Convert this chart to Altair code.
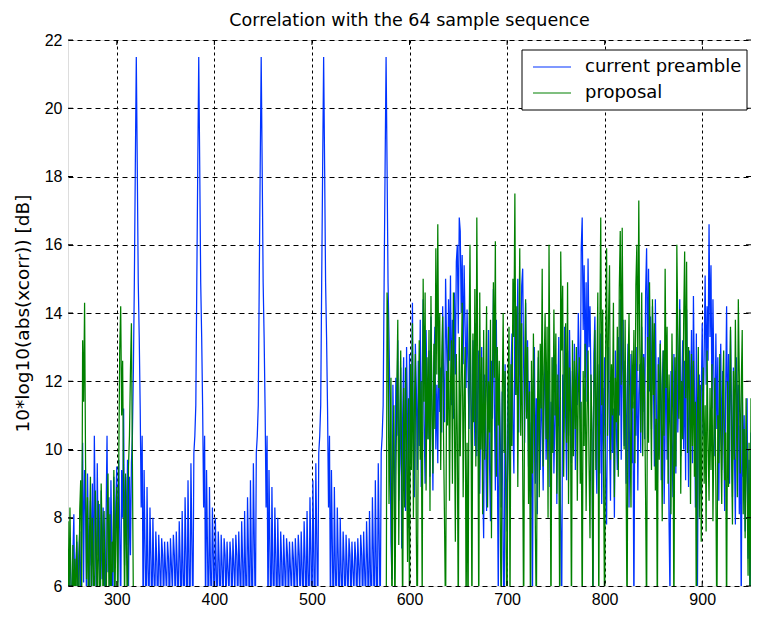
import altair as alt
import pandas as pd

FONT = "Liberation Sans"
TFONT = "DejaVu Sans"
BLUE = "#0033ff"
GREEN = "#008000"

# sample index range shown on the x axis
x_first = 250
x_last = 950

# ---- "current preamble" (blue) ----
blue_lead = [  # 250-319
    6.7, 5.0, 7.4, 6.2, 4.5, 6.9, 8.1, 5.3, 6.7, 7.3,
    5.1, 6.9, 7.6, 4.8, 7.8, 10.2, 6.1, 9.4, 8.2, 5.4,
    9.3, 7.2, 4.9, 8.5, 6.6, 9.0, 5.2, 10.4, 7.8, 5.5,
    9.6, 6.9, 8.4, 4.7, 8.8, 6.2, 8.3, 7.4, 5.0, 8.0,
    10.4, 6.4, 8.6, 5.3, 9.1, 7.0, 5.5, 9.2, 6.8, 8.4,
    9.5, 6.1, 9.7, 7.6, 5.2, 9.4, 8.0, 11.2, 6.6, 9.2,
    7.2, 9.7, 5.8, 9.2, 6.9, 9.6, 10.4, 12.3, 14.9, 18.3,
]
blue_period_1 = [  # 320-383
    21.5, 18.3, 14.9, 13.3, 11.2, 8.3, 10.4, 5.0, 9.4, 7.0,
    4.5, 8.9, 6.5, 5.2, 8.3, 6.8, 4.8, 8.0, 6.4, 5.5,
    7.6, 6.7, 4.9, 7.5, 6.6, 5.6, 7.4, 6.9, 5.3, 7.3,
    6.5, 5.7, 7.3, 6.8, 5.1, 7.4, 6.6, 5.8, 7.5, 6.9,
    5.2, 7.6, 6.5, 5.4, 7.9, 6.7, 4.9, 8.2, 6.4, 5.0,
    8.6, 6.9, 4.6, 9.1, 6.6, 4.8, 9.6, 7.2, 5.0, 9.9,
    10.4, 11.3, 14.9, 18.3,
]
blue_period_2 = [  # 384-447
    21.5, 18.3, 14.9, 13.3, 11.2, 8.3, 10.4, 5.0, 9.4, 7.0,
    4.5, 8.9, 6.5, 5.2, 8.3, 6.8, 4.8, 8.0, 6.4, 5.5,
    7.6, 6.7, 4.9, 7.5, 6.6, 5.6, 7.4, 6.9, 5.3, 7.3,
    6.5, 5.7, 7.3, 6.8, 5.1, 7.4, 6.6, 5.8, 7.5, 6.9,
    5.2, 7.6, 6.5, 5.4, 7.9, 6.7, 4.9, 8.2, 6.4, 5.0,
    8.6, 6.9, 4.6, 9.1, 6.6, 4.8, 9.6, 7.2, 5.0, 9.9,
    10.4, 11.3, 14.9, 18.3,
]
blue_period_3 = [  # 448-511
    21.5, 18.3, 14.9, 13.3, 11.2, 8.3, 10.4, 5.0, 9.4, 7.0,
    4.5, 8.9, 6.5, 5.2, 8.3, 6.8, 4.8, 8.0, 6.4, 5.5,
    7.6, 6.7, 4.9, 7.5, 6.6, 5.6, 7.4, 6.9, 5.3, 7.3,
    6.5, 5.7, 7.3, 6.8, 5.1, 7.4, 6.6, 5.8, 7.5, 6.9,
    5.2, 7.6, 6.5, 5.4, 7.9, 6.7, 4.9, 8.2, 6.4, 5.0,
    8.6, 6.9, 4.6, 9.1, 6.6, 4.8, 9.6, 7.2, 5.0, 9.9,
    10.4, 11.3, 14.9, 18.3,
]
blue_period_4 = [  # 512-575
    21.5, 18.3, 14.9, 13.3, 11.2, 8.3, 10.4, 5.0, 9.4, 7.0,
    4.5, 8.9, 6.5, 5.2, 8.3, 6.8, 4.8, 8.0, 6.4, 5.5,
    7.6, 6.7, 4.9, 7.5, 6.6, 5.6, 7.4, 6.9, 5.3, 7.3,
    6.5, 5.7, 7.3, 6.8, 5.1, 7.4, 6.6, 5.8, 7.5, 6.9,
    5.2, 7.6, 6.5, 5.4, 7.9, 6.7, 4.9, 8.2, 6.4, 5.0,
    8.6, 6.9, 4.6, 9.1, 6.6, 4.8, 9.6, 7.2, 5.0, 9.9,
    10.4, 11.3, 14.9, 18.3,
]
blue_peak_5 = [21.5, 18.3, 14.9, 13.3, 11.2]  # 576-580
blue_tail = [  # 581-955
    7.3, 6.2, 11.9, 9.8, 8.0, 12.1, 10.4, 13.2, 8.5,
    9.6, 12.4, 7.1, 11.0, 12.7, 9.3, 8.2, 13.0, 10.6, 7.7,
    12.8, 9.9, 11.3, 14.3, 10.2, 8.6, 13.1, 11.8, 9.4, 12.6,
    10.1, 13.8, 8.9, 12.2, 14.4, 10.7, 9.0, 13.5, 11.6, 10.3,
    12.9, 9.2, 13.9, 11.4, 8.8, 12.5, 13.6, 10.0, 11.9, 9.6,
    13.3, 11.1, 12.4, 10.5, 14.2, 12.0, 10.8, 15.0, 13.1, 11.7,
    14.4, 12.6, 15.1, 11.3, 13.8, 10.9, 14.6, 12.2, 15.5, 16.0,
    13.4, 16.8, 16.4, 14.0, 15.7, 12.5, 15.4, 13.6, 11.8, 14.1,
    12.3, 10.6, 14.0, 11.5, 9.4, 13.2, 12.0, 10.1, 13.7, 9.8,
    11.9, 12.9, 8.7, 10.8, 13.0, 9.1, 7.4, 12.2, 10.3, 8.2,
    11.4, 13.5, 9.6, 7.9, 12.6, 10.9, 14.7, 11.2, 8.8, 13.8,
    9.9, 5.5, 12.1, 10.4, 8.3, 11.7, 6.9, 4.8, 12.5, 9.2,
    7.6, 11.9, 10.0, 8.4, 12.3, 13.4, 10.7, 9.3, 14.1, 11.6,
    12.8, 15.0, 10.5, 13.7, 11.9, 14.8, 15.3, 12.4, 10.2, 14.3,
    11.1, 13.2, 9.5, 12.0, 8.6, 10.8, 5.2, 11.9, 13.0, 9.0,
    11.5, 8.1, 12.7, 10.2, 9.4, 12.1, 10.6, 8.8, 11.8, 12.6,
    9.7, 11.0, 10.3, 12.4, 8.9, 11.4, 10.0, 12.7, 9.3, 10.9,
    12.5, 8.4, 11.6, 13.3, 9.8, 7.7, 5.3, 12.2, 10.5, 13.6,
    11.0, 9.1, 12.9, 10.4, 13.5, 11.8, 9.6, 12.3, 10.8, 13.1,
    9.4, 12.0, 11.3, 14.0, 12.6, 10.9, 15.9, 16.8, 13.5, 15.4,
    12.1, 14.9, 11.4, 15.6, 13.0, 14.2, 11.9, 10.5, 5.4, 12.8,
    13.9, 10.2, 8.7, 12.5, 11.1, 9.3, 13.4, 8.4, 11.8, 10.0,
    12.7, 9.2, 7.8, 11.6, 13.0, 10.3, 8.5, 12.4, 9.9, 11.2,
    8.0, 12.9, 10.6, 9.4, 13.3, 11.0, 14.4, 9.7, 12.2, 13.8,
    10.1, 12.6, 9.0, 11.7, 13.1, 8.3, 10.9, 12.8, 9.6, 11.4,
    5.1, 12.0, 10.4, 13.0, 8.8, 11.6, 12.5, 9.9, 13.6, 11.1,
    12.8, 10.3, 14.6, 15.9, 12.4, 15.3, 11.7, 13.9, 10.6, 14.2,
    12.0, 9.5, 14.4, 11.3, 8.7, 12.7, 10.8, 13.2, 9.1, 11.9,
    12.9, 8.4, 10.6, 13.0, 9.7, 11.5, 7.9, 5.6, 12.3, 10.2,
    8.6, 12.8, 11.1, 9.3, 13.4, 10.5, 12.1, 14.4, 9.8, 11.7,
    13.2, 10.0, 12.6, 9.1, 14.1, 11.4, 8.9, 12.9, 10.7, 13.5,
    9.6, 14.5, 11.8, 8.3, 13.4, 5.2, 10.9, 12.2, 8.7, 11.5,
    13.7, 10.4, 12.8, 15.1, 11.9, 14.2, 12.6, 16.6, 13.3, 15.4,
    11.2, 14.4, 12.0, 9.8, 13.4, 10.6, 12.7, 8.5, 11.8, 13.1,
    9.4, 12.3, 10.9, 8.2, 11.6, 14.2, 10.1, 12.8, 9.0, 13.5,
    11.3, 8.6, 12.4, 9.9, 7.8, 12.7, 10.5, 11.9, 8.1, 10.7,
    5.3, 12.1, 9.2, 11.0, 7.6, 10.3, 11.5, 6.8, 9.7, 4.9,
    10.5, 8.0, 5.1, 9.4, 11.2, 7.0,
]

# ---- "proposal" (green); between 320 and 575 it stays below the axis ----
green_head_first = 250
green_head = [  # 250-319
    7.9, 5.2, 8.3, 6.1, 4.6, 7.2, 5.5, 6.8, 4.9, 7.5,
    6.0, 4.8, 8.2, 9.1, 5.3, 13.2, 11.4, 14.3, 9.6, 6.2,
    8.6, 4.7, 7.4, 9.2, 5.1, 8.0, 6.5, 4.5, 8.8, 7.0,
    5.3, 8.5, 6.1, 4.9, 9.0, 7.5, 5.4, 8.2, 6.0, 4.7,
    7.8, 9.3, 5.6, 8.1, 4.8, 7.3, 6.4, 9.4, 5.2, 7.7,
    8.9, 5.0, 9.5, 12.9, 14.2, 11.0, 12.6, 8.7, 5.4, 9.3,
    7.1, 4.6, 9.5, 10.4, 12.3, 13.7, 9.6, 5.5, 3.0, 3.0,
]
green_tail_first = 576
green_tail = [  # 576-955
    3.0, 14.6, 13.8, 8.4,
    10.2, 12.1, 4.5, 9.6, 11.3, 4.8, 8.9, 11.7, 13.8, 7.2,
    10.6, 12.9, 9.1, 5.0, 11.8, 8.3, 12.4, 10.0, 6.7, 11.5,
    4.9, 12.5, 9.4, 13.7, 8.0, 11.2, 12.8, 7.5, 4.6, 10.9,
    13.2, 9.7, 12.0, 5.3, 15.0, 11.4, 14.6, 8.8, 12.7, 10.3,
    13.5, 8.2, 14.5, 11.0, 9.3, 13.1, 10.6, 15.9, 12.2, 16.6,
    11.8, 14.0, 9.4, 12.6, 13.9, 10.1, 7.6, 4.8, 12.3, 10.7,
    13.6, 8.5, 11.9, 13.2, 9.0, 14.6, 11.1, 7.3, 12.8, 10.4,
    4.7, 13.3, 9.8, 12.1, 14.3, 8.6, 11.5, 13.0, 5.0, 10.2,
    4.6, 12.9, 16.0, 11.3, 4.9, 13.4, 10.8, 14.7, 9.5, 16.8,
    12.4, 4.8, 14.6, 10.0, 12.7, 8.1, 13.5, 9.7, 11.6, 14.2,
    8.3, 12.0, 10.5, 13.8, 7.4, 11.9, 14.9, 12.1, 16.1, 9.2,
    13.0, 10.7, 12.6, 8.0, 4.9, 11.4, 14.0, 9.9, 12.3, 7.1,
    4.8, 11.8, 13.6, 5.2, 12.5, 10.1, 15.0, 13.3, 17.5, 11.6,
    14.2, 8.9, 12.8, 15.9, 10.4, 13.7, 9.6, 4.7, 12.0, 14.4,
    10.9, 13.0, 8.4, 11.7, 4.8, 12.6, 9.3, 13.4, 11.0, 7.7,
    4.9, 10.8, 12.9, 8.6, 13.1, 11.2, 15.3, 9.5, 12.4, 14.0,
    10.3, 13.6, 8.0, 16.0, 11.5, 4.8, 12.7, 9.9, 14.1, 11.0,
    13.4, 8.7, 12.2, 10.5, 4.7, 15.8, 12.9, 14.8, 9.2, 11.9,
    13.7, 10.2, 14.9, 8.4, 12.4, 11.1, 4.9, 13.2, 9.8, 12.6,
    10.6, 13.0, 8.5, 11.8, 12.7, 9.0, 11.4, 4.6, 12.3, 10.1,
    13.1, 8.2, 11.0, 12.9, 9.6, 7.4, 12.2, 10.5, 4.8, 11.7,
    13.5, 9.4, 12.0, 14.6, 4.9, 13.2, 16.8, 11.3, 14.1, 8.9,
    4.7, 12.8, 15.9, 10.4, 13.9, 15.4, 9.7, 12.5, 11.0, 14.3,
    8.6, 12.1, 10.8, 13.6, 9.2, 14.7, 16.4, 11.9, 16.5, 12.6,
    10.0, 13.8, 9.1, 4.8, 12.4, 14.0, 10.7, 8.3, 12.9, 11.2,
    13.5, 9.6, 14.8, 16.0, 12.3, 17.3, 13.0, 10.5, 14.6, 9.8,
    12.7, 11.4, 8.5, 4.9, 13.3, 10.2, 14.9, 12.0, 9.4, 14.4,
    11.6, 13.7, 8.8, 10.9, 4.7, 12.5, 9.7, 13.1, 11.3, 7.9,
    12.9, 10.4, 15.3, 11.8, 13.6, 9.0, 12.2, 10.6, 8.1, 13.4,
    11.0, 4.8, 12.7, 9.5, 16.0, 13.3, 10.9, 14.1, 8.7, 12.0,
    10.3, 13.8, 15.8, 11.5, 15.5, 9.9, 13.0, 11.7, 8.4, 12.8,
    10.1, 12.6, 9.2, 11.4, 4.6, 10.8, 13.0, 8.0, 11.9, 7.3,
    10.7, 12.4, 9.0, 11.3, 7.6, 12.9, 10.2, 8.5, 11.8, 9.4,
    12.5, 7.9, 10.6, 12.1, 8.8, 4.7, 11.0, 9.6, 12.8, 10.3,
    8.4, 11.7, 12.9, 9.1, 10.5, 4.8, 12.0, 8.9, 11.4, 13.6,
    10.0, 7.8, 12.3, 9.7, 13.8, 11.1, 8.6, 14.4, 12.2, 9.3,
    11.8, 13.5, 8.1, 10.6, 7.4, 11.5, 9.0, 6.3, 10.2, 4.9,
    11.5, 8.2, 9.8, 6.1, 10.4, 7.6,
]

# axis ticks
x_ticks = [300, 400, 500, 600, 700, 800, 900]
y_ticks = [6, 8, 10, 12, 14, 16, 18, 20, 22]
series_names = ["current preamble", "proposal"]
series_colors = [BLUE, GREEN]

# ---- tables ----
blue = (blue_lead + blue_period_1 + blue_period_2 + blue_period_3
        + blue_period_4 + blue_peak_5 + blue_tail)
df_blue = pd.DataFrame({
    "n": list(range(x_first, x_first + len(blue))),
    "v": blue,
    "series": series_names[0],
    "seg": 0,
})
df_green = pd.concat([
    pd.DataFrame({"n": list(range(green_head_first, green_head_first + len(green_head))),
                  "v": green_head, "seg": 1}),
    pd.DataFrame({"n": list(range(green_tail_first, green_tail_first + len(green_tail))),
                  "v": green_tail, "seg": 2}),
])
df_green["series"] = series_names[1]

W, H = 683, 546

xs = alt.Scale(domain=[x_first, x_last], nice=False, zero=False)
ys = alt.Scale(domain=[6, 22], nice=False, zero=False)
cs = alt.Scale(domain=series_names, range=series_colors)

x_axis = alt.Axis(values=x_ticks, labelFont=FONT, labelFontSize=16, labelColor="black",
                  labelPadding=5, domain=False, ticks=False, grid=True,
                  gridColor="black", gridOpacity=1, gridWidth=1, gridDash=[3, 3],
                  title=None, labelFlush=False)
y_axis = alt.Axis(values=y_ticks, labelFont=FONT, labelFontSize=16, labelColor="black",
                  labelPadding=6, domain=False, ticks=False, grid=True,
                  gridColor="black", gridOpacity=1, gridWidth=1, gridDash=[5, 4],
                  title="10*log10(abs(xcorr)) [dB]", titleFont=TFONT, titleFontSize=18.5,
                  titleFontWeight="normal", titleColor="black", titlePadding=12,
                  labelFlush=False)

blue_line = alt.Chart(df_blue).mark_line(strokeWidth=1.25, clip=True).encode(
    x=alt.X("n:Q", scale=xs, axis=x_axis),
    y=alt.Y("v:Q", scale=ys, axis=y_axis),
    color=alt.Color("series:N", scale=cs, legend=None),
    detail="seg:N",
)
green_line = alt.Chart(df_green).mark_line(strokeWidth=1.25, clip=True).encode(
    x=alt.X("n:Q", scale=xs),
    y=alt.Y("v:Q", scale=ys),
    color=alt.Color("series:N", scale=cs, legend=None),
    detail="seg:N",
)

# inward tick marks on all four sides (MATLAB style)
df_xt = pd.DataFrame({"t": x_ticks})
df_yt = pd.DataFrame({"t": y_ticks})
tick_b = alt.Chart(df_xt).mark_rule(color="black", strokeWidth=1).encode(
    x=alt.X("t:Q", scale=xs), y=alt.value(H), y2=alt.value(H - 5))
tick_t = alt.Chart(df_xt).mark_rule(color="black", strokeWidth=1).encode(
    x=alt.X("t:Q", scale=xs), y=alt.value(0), y2=alt.value(5))
tick_l = alt.Chart(df_yt).mark_rule(color="black", strokeWidth=1).encode(
    y=alt.Y("t:Q", scale=ys), x=alt.value(0), x2=alt.value(5))
tick_r = alt.Chart(df_yt).mark_rule(color="black", strokeWidth=1).encode(
    y=alt.Y("t:Q", scale=ys), x=alt.value(W - 5), x2=alt.value(W))

# boxed legend in the upper right corner
one = pd.DataFrame({"k": [0]})
legend_box = alt.Chart(one).mark_rect(fill="white", stroke="black", strokeWidth=1).encode(
    x=alt.value(454), x2=alt.value(679), y=alt.value(10), y2=alt.value(70))
legend_layers = [legend_box]
for i, (name, col) in enumerate(zip(series_names, series_colors)):
    yy = 27 + 26 * i
    legend_layers.append(
        alt.Chart(one).mark_rule(color=col, strokeWidth=1.2).encode(
            x=alt.value(465), x2=alt.value(503), y=alt.value(yy)))
    legend_layers.append(
        alt.Chart(one).mark_text(align="left", baseline="middle", font=TFONT,
                                 fontSize=18, color="black").encode(
            x=alt.value(517), y=alt.value(yy), text=alt.value(name)))

chart = alt.layer(blue_line, green_line, tick_b, tick_t, tick_l, tick_r,
                  *legend_layers).properties(
    width=W, height=H,
    title=alt.TitleParams("Correlation with the 64 sample sequence", font=TFONT,
                          fontSize=17.5, fontWeight="normal", color="black", offset=3),
    autosize=alt.AutoSizeParams(type="none"),
    padding={"left": 60, "top": 32, "right": 0, "bottom": 22},
).configure_view(stroke="black", strokeWidth=1).configure(background="white")

chart.save("out.html", embed_options={"renderer": "svg", "actions": False})
